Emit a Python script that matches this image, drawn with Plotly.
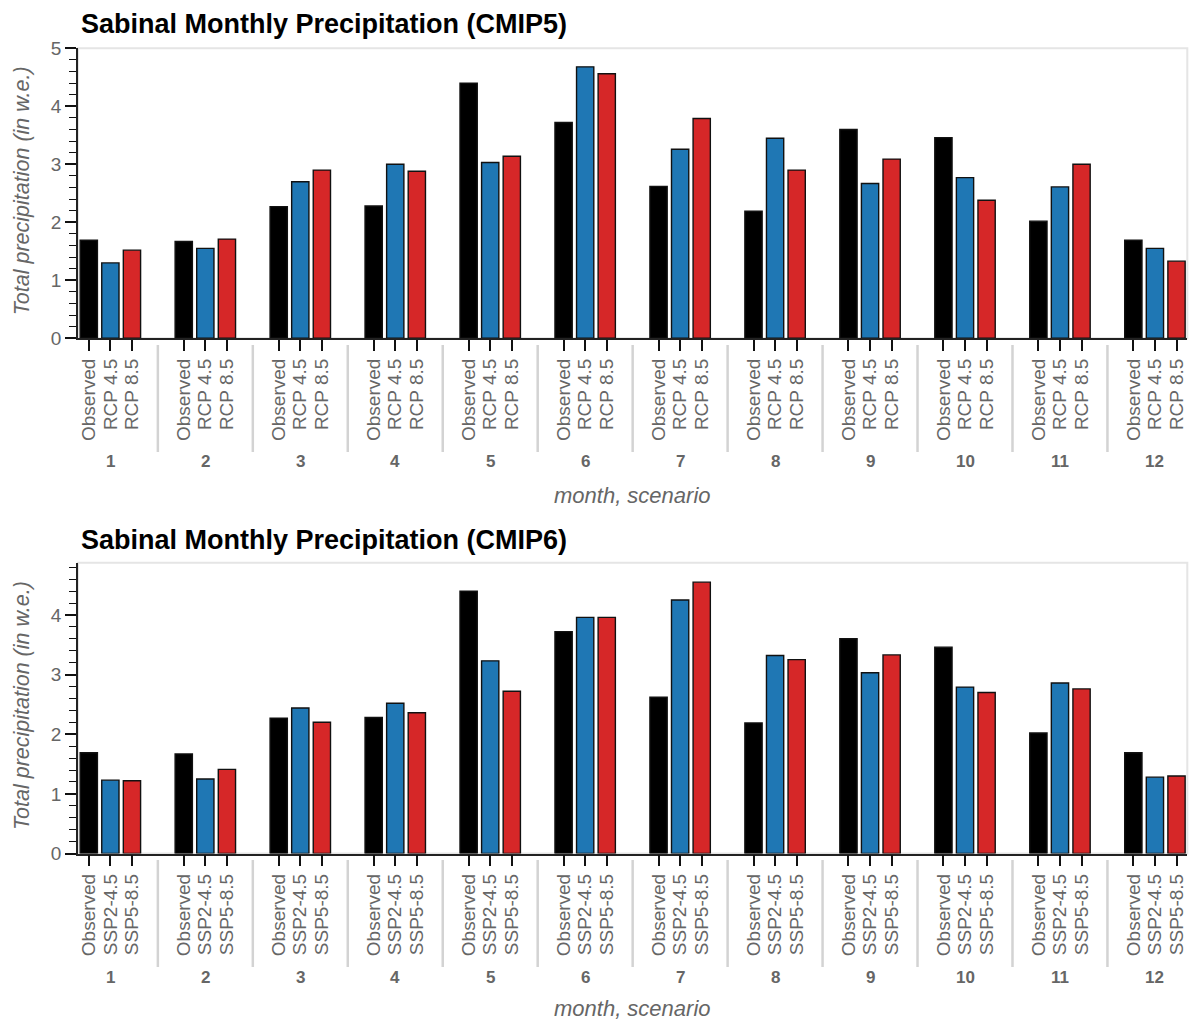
import numpy as np
import plotly.graph_objects as go

months = [str(m) for m in range(1, 13)]
scen_cmip5 = ["Observed", "RCP 4.5", "RCP 8.5"]
scen_cmip6 = ["Observed", "SSP2-4.5", "SSP5-8.5"]

observed = [1.69, 1.67, 2.27, 2.28, 4.40, 3.72, 2.62, 2.19, 3.60, 3.46, 2.02, 1.69]
rcp45 = [1.30, 1.55, 2.70, 3.00, 3.03, 4.68, 3.26, 3.45, 2.67, 2.77, 2.61, 1.55]
rcp85 = [1.52, 1.71, 2.90, 2.88, 3.14, 4.56, 3.79, 2.90, 3.09, 2.38, 3.00, 1.33]
ssp245 = [1.23, 1.25, 2.44, 2.52, 3.23, 3.96, 4.25, 3.32, 3.03, 2.79, 2.86, 1.28]
ssp585 = [1.22, 1.41, 2.20, 2.36, 2.72, 3.96, 4.55, 3.25, 3.33, 2.70, 2.76, 1.30]

titles = ["Sabinal Monthly Precipitation (CMIP5)", "Sabinal Monthly Precipitation (CMIP6)"]
colors = ["#000000", "#1f77b4", "#d62728"]

W, H = 1193, 1022
GROUP_PAD = 1.4
nscen = 3
stride = nscen + GROUP_PAD
month_idx = np.arange(len(months))
pos = {j: month_idx * stride + j + 0.5 for j in range(nscen)}
centers = month_idx * stride + nscen / 2
bounds = month_idx[1:] * stride - GROUP_PAD / 2
xmax = (len(months) - 1) * stride + nscen

FONT = "Liberation Sans, Arial, sans-serif"
GREY = "#666666"

def py(px):
    return 1 - px / H

panels = [
    dict(scen=scen_cmip5, vals=[observed, rcp45, rcp85], ymax=5.0,
         top=48.3, bottom=338.3, div=(345, 452), month_y=461, xtitle_y=495, title_y=24),
    dict(scen=scen_cmip6, vals=[observed, ssp245, ssp585], ymax=4.876,
         top=562.7, bottom=853.5, div=(860, 967), month_y=977, xtitle_y=1008, title_y=540),
]

fig = go.Figure()
x0p, x1p = 78 / W, 1187.3 / W
shapes, annotations = [], []

for k, p in enumerate(panels):
    xa = "x" if k == 0 else "x2"
    ya = "y" if k == 0 else "y2"
    for j in range(nscen):
        fig.add_trace(go.Bar(
            x=pos[j], y=p["vals"][j], width=0.8, xaxis=xa, yaxis=ya,
            marker=dict(color=colors[j], line=dict(color="#111111", width=1.4)),
            name=p["scen"][j], showlegend=False,
        ))
    axkey = "xaxis" if k == 0 else "xaxis2"
    aykey = "yaxis" if k == 0 else "yaxis2"
    tickvals = np.concatenate([pos[j] for j in range(nscen)])
    ticktext = [p["scen"][j] for j in range(nscen) for _ in months]
    fig.update_layout(**{
        axkey: dict(
            domain=[x0p, x1p], anchor=ya, range=[0, xmax], automargin=False,
            tickmode="array", tickvals=tickvals, ticktext=ticktext,
            tickangle=-90, ticks="outside", ticklen=11, tickwidth=1.5, tickcolor="#111111",
            showline=True, linecolor="#222222", linewidth=1.5, showgrid=False, zeroline=False,
            tickfont=dict(family=FONT, size=19, color=GREY),
        ),
        aykey: dict(
            domain=[py(p["bottom"]), py(p["top"])], anchor=xa, range=[0, p["ymax"]], automargin=False,
            dtick=1, ticks="outside", ticklen=11, tickwidth=1.5, tickcolor="#111111",
            minor=dict(dtick=0.2, ticks="outside", ticklen=7, tickwidth=1.2, tickcolor="#111111"),
            showline=True, linecolor="#222222", linewidth=1.5, showgrid=False, zeroline=False,
            tickfont=dict(family=FONT, size=19, color=GREY),
        ),
    })
    # plot frame
    shapes.append(dict(type="rect", xref=f"{xa} domain", yref=f"{ya} domain",
                       x0=0, x1=1, y0=0, y1=1, line=dict(color="#e5e5e5", width=2), layer="below"))
    # group dividers
    for b in bounds:
        shapes.append(dict(type="line", xref=xa, yref="paper", x0=b, x1=b,
                           y0=py(p["div"][0]), y1=py(p["div"][1]),
                           line=dict(color="#d3d3d3", width=2.5)))
    # month labels
    for c, m in zip(centers, months):
        annotations.append(dict(x=c, y=py(p["month_y"]), xref=xa, yref="paper", text=f"<b>{m}</b>",
                                showarrow=False, xanchor="center", yanchor="middle",
                                font=dict(family=FONT, size=17, color=GREY)))
    # x title
    annotations.append(dict(x=(x0p + x1p) / 2, y=py(p["xtitle_y"]), xref="paper", yref="paper",
                            text="<i>month, scenario</i>", showarrow=False,
                            xanchor="center", yanchor="middle",
                            font=dict(family=FONT, size=22, color=GREY)))
    # y title
    annotations.append(dict(x=22 / W, y=py((p["top"] + p["bottom"]) / 2 - 2), xref="paper", yref="paper",
                            text="<i>Total precipitation (in w.e.)</i>", showarrow=False, textangle=-90,
                            xanchor="center", yanchor="middle",
                            font=dict(family=FONT, size=21.5, color=GREY)))
    # title
    annotations.append(dict(x=79 / W, y=py(p["title_y"]), xref="paper", yref="paper",
                            text=f"<b>{titles[k]}</b>", showarrow=False,
                            xanchor="left", yanchor="middle",
                            font=dict(family=FONT, size=27, color="#000000")))

fig.update_layout(
    width=W, height=H, margin=dict(l=0, r=0, t=0, b=0, pad=0, autoexpand=False),
    paper_bgcolor="white", plot_bgcolor="white",
    barmode="overlay", shapes=shapes, annotations=annotations,
)
fig.write_html(
    "out.html",
    config={"displayModeBar": False},
    post_script="document.body.style.margin='0';document.body.style.overflow='hidden';"
                "document.documentElement.style.overflow='hidden';",
)
